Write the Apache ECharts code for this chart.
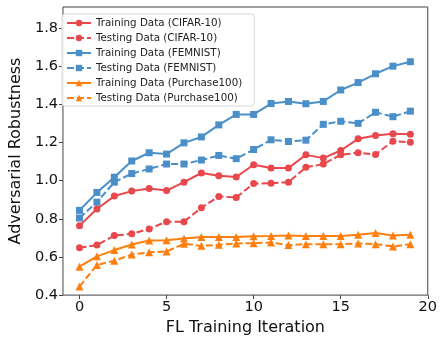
<!DOCTYPE html>
<html>
<head>
<meta charset="utf-8">
<script src="https://cdn.jsdelivr.net/npm/echarts@6/dist/echarts.min.js"></script>
<style>
  html, body { margin: 0; padding: 0; background: #fff; }
  #chart { width: 440px; height: 341px; }
</style>
</head>
<body>
<div id="chart"></div>
<script>
// FL iterations 0..19
const iterations = [0, 1, 2, 3, 4, 5, 6, 7, 8, 9, 10, 11, 12, 13, 14, 15, 16, 17, 18, 19];

const trainCifar = [0.764, 0.851, 0.919, 0.945, 0.959, 0.948, 0.992, 1.040, 1.026, 1.019,
                    1.083, 1.066, 1.066, 1.135, 1.118, 1.158, 1.219, 1.236, 1.246, 1.243];
const testCifar = [0.648, 0.662, 0.712, 0.721, 0.747, 0.785, 0.785, 0.858, 0.917, 0.912,
                   0.985, 0.986, 0.992, 1.070, 1.087, 1.135, 1.146, 1.137, 1.207, 1.201];
const trainFemnist = [0.844, 0.938, 1.018, 1.103, 1.146, 1.139, 1.198, 1.229, 1.292, 1.347,
                      1.347, 1.404, 1.415, 1.403, 1.415, 1.475, 1.514, 1.560, 1.600, 1.623];
const testFemnist = [0.804, 0.887, 0.992, 1.037, 1.061, 1.087, 1.087, 1.108, 1.132, 1.115,
                     1.163, 1.214, 1.205, 1.212, 1.295, 1.311, 1.300, 1.358, 1.335, 1.364];
const trainPurchase = [0.549, 0.603, 0.636, 0.665, 0.686, 0.688, 0.697, 0.704, 0.704, 0.705,
                       0.709, 0.710, 0.712, 0.710, 0.710, 0.710, 0.716, 0.726, 0.712, 0.716];
const testPurchase = [0.445, 0.558, 0.580, 0.613, 0.624, 0.629, 0.669, 0.658, 0.664, 0.671,
                      0.672, 0.676, 0.662, 0.667, 0.667, 0.667, 0.671, 0.667, 0.655, 0.667];

const xTicks = [0, 5, 10, 15, 20];
const yTicks = [0.4, 0.6, 0.8, 1.0, 1.2, 1.4, 1.6, 1.8];

const RED = '#e8474b';
const BLUE = '#4b8fc9';
const ORANGE = '#ff7f0e';
const FONT = 'DejaVu Sans';

const pairs = (ys) => iterations.map((x, i) => [x, ys[i]]);

function makeSeries(name, ys, color, symbol, dashed) {
    return {
        name: name,
        type: 'line',
        data: pairs(ys),
        symbol: symbol,
        symbolSize: symbol === 'triangle' ? 8 : 7,
        color: color,
        lineStyle: {
            width: 2,
            color: color,
            type: dashed ? [7, 3] : 'solid'
        },
        itemStyle: { color: color },
        animation: false
    };
}

const chart = echarts.init(document.getElementById('chart'));

const option = {
    backgroundColor: '#fff',
    textStyle: { fontFamily: FONT },
    grid: {
        left: 57,
        right: 8,
        top: 7,
        bottom: 44,
        show: true,
        borderColor: '#444',
        borderWidth: 1,
        backgroundColor: 'transparent'
    },
    legend: {
        orient: 'vertical',
        left: 62,
        top: 14,
        itemWidth: 24,
        itemHeight: 8,
        itemGap: 5,
        padding: [4, 12, 3, 4],
        backgroundColor: 'rgba(255,255,255,0.85)',
        borderColor: '#d8d8d8',
        borderWidth: 1,
        borderRadius: 3,
        textStyle: { fontFamily: FONT, fontSize: 10.3, color: '#222' },
        data: [
            'Training Data (CIFAR-10)', 'Testing Data (CIFAR-10)',
            'Training Data (FEMNIST)', 'Testing Data (FEMNIST)',
            'Training Data (Purchase100)', 'Testing Data (Purchase100)'
        ]
    },
    xAxis: {
        type: 'value',
        min: -0.95,
        max: 20,
        name: 'FL Training Iteration',
        nameLocation: 'middle',
        nameGap: 21,
        nameTextStyle: { fontFamily: FONT, fontSize: 16, color: '#111' },
        axisLine: { show: false, onZero: false },
        splitLine: { show: false },
        axisTick: {
            show: true,
            length: 4,
            customValues: xTicks,
            lineStyle: { color: '#444' }
        },
        axisLabel: {
            customValues: xTicks,
            margin: 5,
            fontFamily: FONT,
            fontSize: 14.5,
            color: '#111'
        }
    },
    yAxis: {
        type: 'value',
        min: 0.4,
        max: 1.91,
        name: 'Adversarial Robustness',
        nameLocation: 'middle',
        nameGap: 32,
        nameTextStyle: { fontFamily: FONT, fontSize: 16, color: '#111' },
        axisLine: { show: false, onZero: false },
        splitLine: { show: false },
        axisTick: {
            show: true,
            length: 4,
            customValues: yTicks,
            lineStyle: { color: '#444' }
        },
        axisLabel: {
            customValues: yTicks,
            margin: 5,
            fontFamily: FONT,
            fontSize: 14.5,
            color: '#111',
            formatter: (v) => v.toFixed(1)
        }
    },
    series: [
        makeSeries('Training Data (CIFAR-10)', trainCifar, RED, 'circle', false),
        makeSeries('Testing Data (CIFAR-10)', testCifar, RED, 'circle', true),
        makeSeries('Training Data (FEMNIST)', trainFemnist, BLUE, 'rect', false),
        makeSeries('Testing Data (FEMNIST)', testFemnist, BLUE, 'rect', true),
        makeSeries('Training Data (Purchase100)', trainPurchase, ORANGE, 'triangle', false),
        makeSeries('Testing Data (Purchase100)', testPurchase, ORANGE, 'triangle', true)
    ]
};

chart.setOption(option);
</script>
</body>
</html>
